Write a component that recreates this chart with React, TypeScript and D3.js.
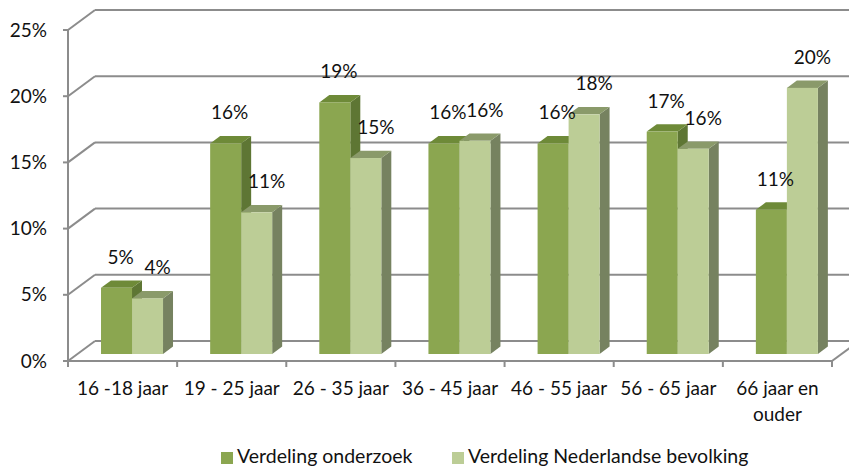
import React from 'react';
import * as d3 from 'd3';

const categories = [
  '16 -18 jaar',
  '19 - 25 jaar',
  '26 - 35 jaar',
  '36 - 45 jaar',
  '46 - 55 jaar',
  '56 - 65 jaar',
  '66 jaar en|ouder',
];
const seriesNames = ['Verdeling onderzoek', 'Verdeling Nederlandse bevolking'];
const onderzoek = [5.0, 15.9, 19.0, 15.9, 15.9, 16.8, 10.9];
const bevolking = [4.2, 10.7, 14.8, 16.1, 18.1, 15.5, 20.1];
const yTicks = [0, 5, 10, 15, 20, 25];

const W = 849, H = 468;
const FONT = 'Lato, "Open Sans", sans-serif';

// colours: front, top, side
const palette = [
  { front: '#8ba650', top: '#6e8a38', side: '#5e7634' },
  { front: '#bccd96', top: '#8a9a6a', side: '#768260' },
];

const App = () => {
  React.useEffect(() => {
    document.body.style.margin = '0';
  }, []);

  const left = 68, right = 832;
  const depthX = 27, depthY = 20; // floor depth offset
  const barStart = 0.35, barEnd = 0.72; // bar position in depth

  const y = d3.scaleLinear().domain([0, 25]).range([361, 30]);
  const x0 = d3.scaleBand().domain(categories).range([left, right]).padding(0);
  const x1 = d3.scaleBand().domain(seriesNames).range([0, x0.bandwidth()])
    .paddingInner(0).paddingOuter(0.76);
  const series = [onderzoek, bevolking];

  const bx = depthX * barStart, by = depthY * barStart;
  const bdx = depthX * (barEnd - barStart), bdy = depthY * (barEnd - barStart);
  const grid = '#8c8c8c';

  const bars: React.ReactNode[] = [];
  const labels: React.ReactNode[] = [];
  categories.forEach((c, i) => {
    series.forEach((vals, s) => {
      const v = vals[i];
      const xa = x0(c)! + x1(seriesNames[s])! + bx;
      const w = x1.bandwidth();
      const yb = y(0) - by;
      const yt = y(v) - by;
      const col = palette[s];
      bars.push(
        <g key={`b${i}-${s}`}>
          <polygon
            points={`${xa + w},${yt} ${xa + w + bdx},${yt - bdy} ${xa + w + bdx},${yb - bdy} ${xa + w},${yb}`}
            fill={col.side}
          />
          <polygon
            points={`${xa},${yt} ${xa + bdx},${yt - bdy} ${xa + w + bdx},${yt - bdy} ${xa + w},${yt}`}
            fill={col.top}
          />
          <rect x={xa} y={yt} width={w} height={yb - yt} fill={col.front} />
        </g>
      );
      labels.push(
        <text key={`l${i}-${s}`} x={xa + w / 2 + (s === 0 ? 4 : 10)} y={yt - 24}
          textAnchor="middle" fontSize={19} fill="#111">
          {`${Math.round(v)}%`}
        </text>
      );
    });
  });

  return (
    <svg width={W} height={H} style={{ position: 'absolute', left: 0, top: 0, background: '#fff' }}
      fontFamily={FONT}>
      {/* back wall gridlines + left wall diagonals */}
      {yTicks.map(t => (
        <g key={`g${t}`} stroke={grid} strokeWidth={2} fill="none">
          <line x1={left + depthX} x2={right + depthX} y1={y(t) - depthY} y2={y(t) - depthY} />
          <line x1={left} x2={left + depthX} y1={y(t)} y2={y(t) - depthY} />
          <line x1={left - 5} x2={left} y1={y(t)} y2={y(t)} />
        </g>
      ))}
      {/* axes and floor */}
      <g stroke={grid} strokeWidth={2} fill="none">
        <line x1={left} x2={left} y1={y(25)} y2={y(0)} />
        <line x1={left} x2={right} y1={y(0)} y2={y(0)} />
        <line x1={right} x2={right + depthX} y1={y(0)} y2={y(0) - depthY} />
        {categories.map((c, i) => (
          <line key={`t${i}`} x1={x0(c)!} x2={x0(c)!} y1={y(0)} y2={y(0) + 6} />
        ))}
        <line x1={right} x2={right} y1={y(0)} y2={y(0) + 6} />
      </g>
      {bars}
      {labels}
      {/* y tick labels */}
      {yTicks.map(t => (
        <text key={`yl${t}`} x={47} y={y(t) + 6.5} textAnchor="end" fontSize={19} fill="#111">
          {`${t}%`}
        </text>
      ))}
      {/* category labels */}
      {categories.map(c => (
        <text key={`cl${c}`} x={x0(c)! + x0.bandwidth() / 2} y={395} textAnchor="middle"
          fontSize={19} fill="#111">
          {c.split('|').map((ln, k) => (
            <tspan key={k} x={x0(c)! + x0.bandwidth() / 2} dy={k === 0 ? 0 : 26}>{ln}</tspan>
          ))}
        </text>
      ))}
      {/* legend */}
      {seriesNames.map((n, s) => {
        const lx = s === 0 ? 221 : 452;
        return (
          <g key={`lg${s}`}>
            <rect x={lx} y={452} width={12} height={12} fill={palette[s].front} />
            <text x={lx + 16} y={463} fontSize={19.5} fill="#111">{n}</text>
          </g>
        );
      })}
    </svg>
  );
};

export default App;
